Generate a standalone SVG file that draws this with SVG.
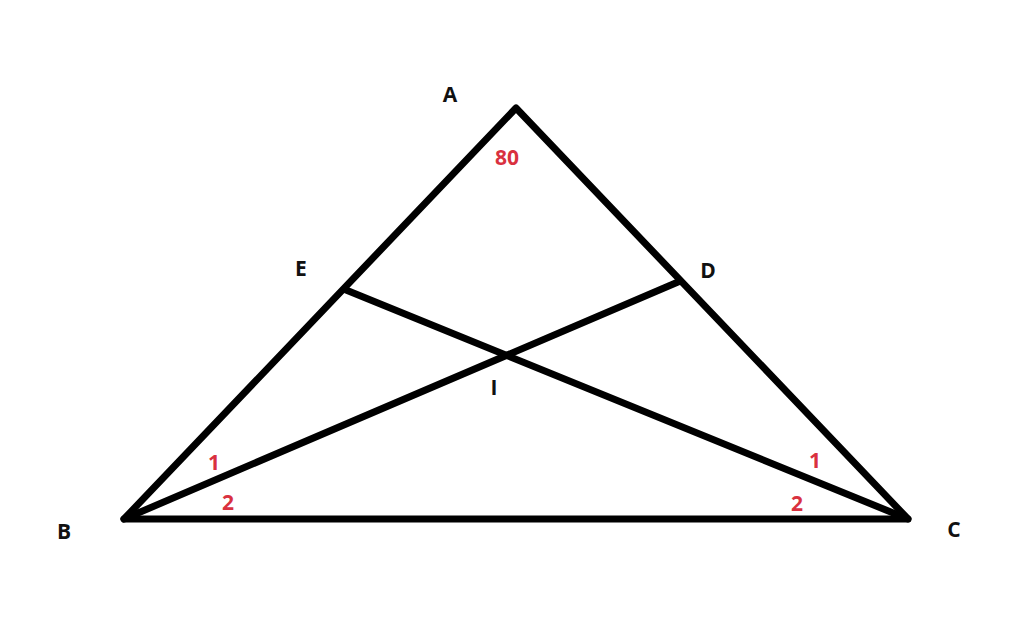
<svg xmlns="http://www.w3.org/2000/svg" width="1024" height="619" viewBox="0 0 1024 619">
<style>
.ln{stroke:#000;stroke-width:7;stroke-linecap:round;stroke-linejoin:round;fill:none}
.lb{font-family:"Open Sans","Liberation Sans",sans-serif;font-weight:bold;font-size:21px;fill:#111;text-anchor:middle}
.an{font-family:"Open Sans","Liberation Sans",sans-serif;font-weight:bold;font-size:21px;fill:#d9313f;text-anchor:middle}
</style>
<rect width="1024" height="619" fill="#fff"/>
<g id="lines">
<polygon class="ln" points="516,108 124,519 908,519"/>
<line class="ln" x1="124" y1="519" x2="678" y2="282"/>
<line class="ln" x1="346" y1="290" x2="908" y2="519"/>
</g>
<g id="labels">
<text class="lb" x="450" y="102">A</text>
<text class="lb" x="64" y="539">B</text>
<text class="lb" x="954" y="537">C</text>
<text class="lb" x="301" y="276">E</text>
<text class="lb" x="708" y="278">D</text>
<text class="lb" x="494" y="395">I</text>
</g>
<g id="angles">
<text class="an" x="507" y="165">80</text>
<text class="an" x="214" y="470">1</text>
<text class="an" x="228" y="510">2</text>
<text class="an" x="815" y="468">1</text>
<text class="an" x="797" y="511">2</text>
</g>
</svg>
